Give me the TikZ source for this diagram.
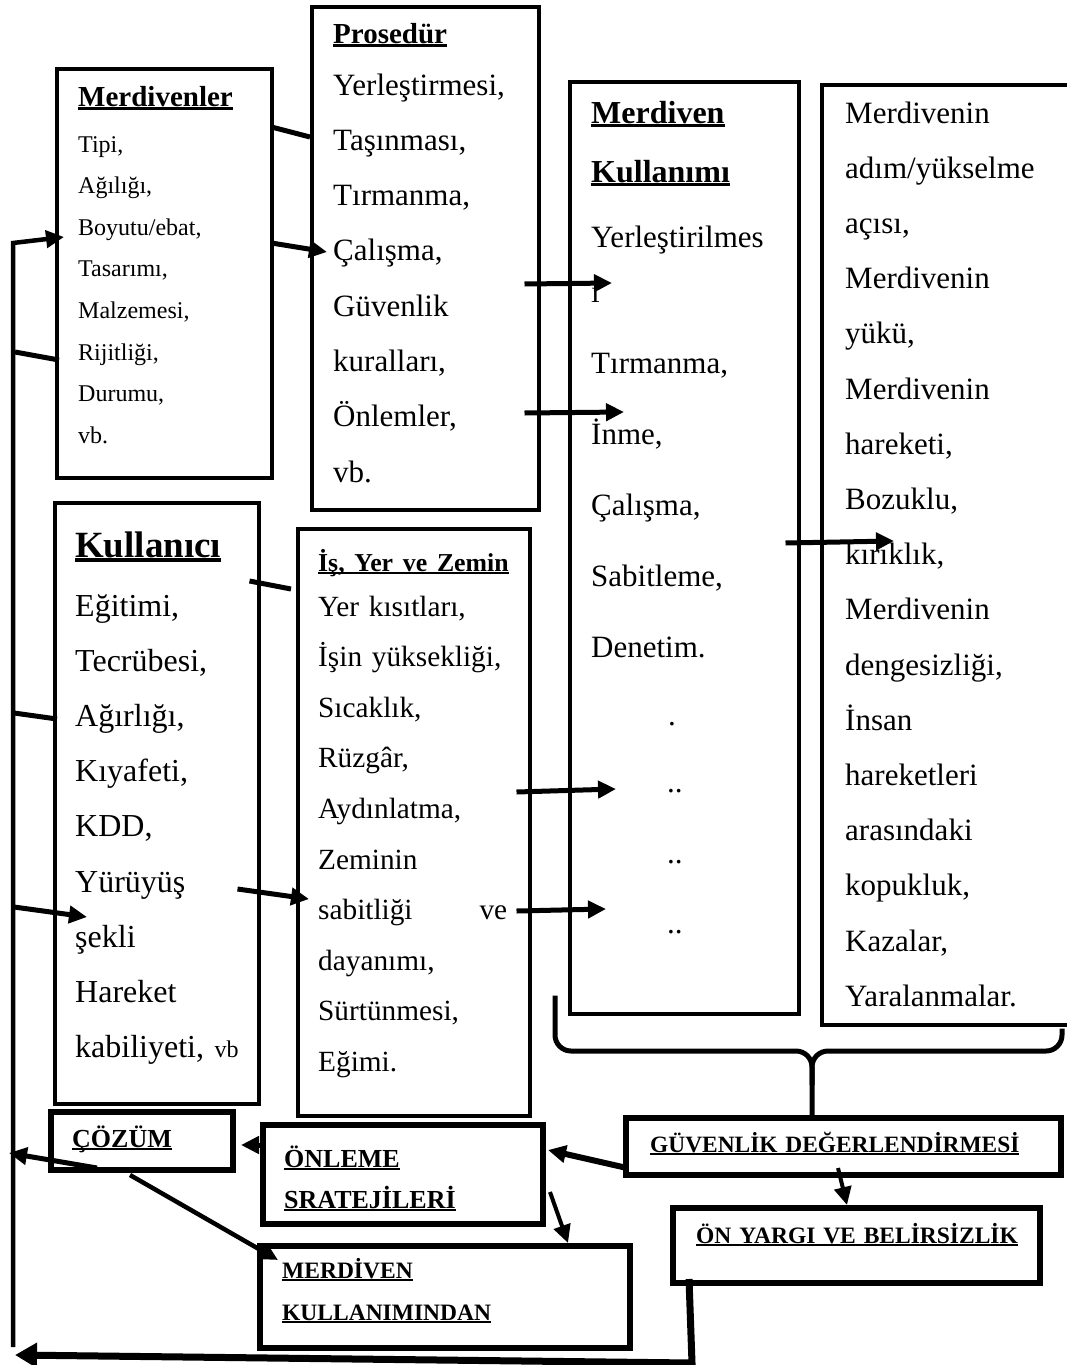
\documentclass[tikz,border=0pt]{standalone}
\usepackage{fontspec}
\setmainfont{Liberation Serif}
\usetikzlibrary{arrows.meta,calc}
\newcommand{\bul}[1]{\leavevmode\setbox0\hbox{\bfseries #1}\rlap{\rule[-0.13em]{\wd0}{0.09em}}\box0}
\newcommand{\fsz}[2]{\fontsize{#1}{#2}\selectfont}
\tikzstyle{frame} = [rectangle, draw, line width=3.5pt, anchor=north west, inner sep=0pt]
\tikzstyle{heavy} = [frame, line width=6pt]
\tikzstyle{words} = [anchor=base west, text width=300pt, align=left, inner sep=0pt]
\tikzstyle{line} = [draw, -{Triangle[length=18pt,width=17pt]}, line width=5pt]
\tikzstyle{link} = [draw, line width=5pt]
\begin{document}
\begin{tikzpicture}[x=1pt, y=-1pt]
			\useasboundingbox (0,0) rectangle (1067,1365);
			% Place nodes
			\node [frame, minimum width=215pt, minimum height=409pt] (ladders) at (55,67) {};
			\node [words, font=\fsz{24}{41.6}] (ladders-txt) at (78,106)
			{{\fsz{29}{41.6}\bul{Merdivenler}}\\[4.4pt] Tipi,\\ Ağılığı,\\ Boyutu/ebat,\\
				Tasarımı,\\ Malzemesi,\\ Rijitliği,\\ Durumu,\\ vb.};
			\node [frame, minimum width=227pt, minimum height=503pt] (proc) at (310,5) {};
			\node [words, font=\fsz{31}{55.3}] (proc-txt) at (333,43)
			{{\fsz{29}{55.3}\bul{Prosedür}}\\[-3.3pt] Yerleştirmesi,\\ Taşınması,\\ Tırmanma,\\
				Çalışma,\\ Güvenlik\\ kuralları,\\ Önlemler,\\ vb.};
			\node [frame, minimum width=229pt, minimum height=932pt] (usage) at (568,80) {};
			\node [words, font=\fsz{31}{55}] (usage-txt) at (591,123)
			{{\fsz{32}{55}\bul{Merdiven}}\\[4pt] {\fsz{32}{55}\bul{Kullanımı}}\\[10pt]
				Yerleştirilmes\\ i\\[16pt] Tırmanma,\\[16pt] İnme,\\[16pt] Çalışma,\\[16pt]
				Sabitleme,\\[16pt] Denetim.\\[13pt] \hspace*{77pt}.\\[12pt] \hspace*{76pt}..\\[16pt]
				\hspace*{76pt}..\\[15pt] \hspace*{76pt}..};
			\node [frame, minimum width=255pt, minimum height=940pt] (risks) at (820,83) {};
			\node [words, font=\fsz{31}{55.2}] (risks-txt) at (845,123)
			{Merdivenin\\ adım/yükselme\\ açısı,\\ Merdivenin\\ yükü,\\ Merdivenin\\ hareketi,\\
				Bozuklu,\\ kırıklık,\\ Merdivenin\\ dengesizliği,\\ İnsan\\ hareketleri\\
				arasındaki\\ kopukluk,\\ Kazalar,\\ Yaralanmalar.};
			\node [frame, minimum width=204pt, minimum height=601pt] (user) at (53,501) {};
			\node [words, font=\fsz{32}{55.2}] (user-txt) at (75,557)
			{{\fsz{37}{55.2}\bul{Kullanıcı}}\\[3.8pt] Eğitimi,\\ Tecrübesi,\\ Ağırlığı,\\
				Kıyafeti,\\ KDD,\\ Yürüyüş\\ şekli\\ Hareket\\ kabiliyeti, {\fsz{24}{55.2}vb}};
			\node [frame, minimum width=232pt, minimum height=587pt] (site) at (296,527) {};
			\node [words, font=\fsz{29.3}{50.6}] (site-txt) at (318,571)
			{{\fsz{25.8}{50.6}\bul{İş, Yer ve Zemin}}\\[-5.6pt] Yer kısıtları,\\
				İşin yüksekliği,\\ Sıcaklık,\\ Rüzgâr,\\ Aydınlatma,\\ Zeminin\\
				\makebox[189pt][l]{sabitliği\hfill ve}\\ dayanımı,\\ Sürtünmesi,\\ Eğimi.};
			% lower row
			\node [heavy, minimum width=182pt, minimum height=58pt] (cozum) at (48,1109) {};
			\node [words, font=\fsz{26}{41}] (cozum-txt) at (72,1147) {\bul{ÇÖZÜM}};
			\node [heavy, minimum width=280pt, minimum height=99pt] (onleme) at (260,1122) {};
			\node [words, font=\fsz{26}{41}] (onleme-txt) at (284,1167)
			{\bul{ÖNLEME}\\ \bul{SRATEJİLERİ}};
			\node [heavy, minimum width=435pt, minimum height=57pt] (guven) at (623,1115) {};
			\node [words, font=\fsz{23.4}{40}] (guven-txt) at (650,1152)
			{\bul{GÜVENLİK DEĞERLENDİRMESİ}};
			\node [heavy, minimum width=367pt, minimum height=75pt] (onyargi) at (670,1205) {};
			\node [words, font=\fsz{23.5}{42}] (onyargi-txt) at (696,1243)
			{\bul{ÖN YARGI VE BELİRSİZLİK}};
			\node [heavy, minimum width=370pt, minimum height=102pt] (kulla) at (257,1243) {};
			\node [words, font=\fsz{23.5}{42}] (kulla-txt) at (282,1278)
			{\bul{MERDİVEN}\\ \bul{KULLANIMINDAN}};
			\coordinate (spinetop) at (13,243);
			\coordinate (spinebottom) at (13,1347);
			\coordinate (bracetip) at ($(guven.north west)+(189,0)$);
			% connectors
			\path [line, line width=4.5pt] (spinebottom) -- (spinetop) -- ($(ladders.north west)+(9,170)$);
			\path [link] ($(spinetop)+(2,109)$) -- ($(ladders.north west)+(4,293)$);
			\path [link] ($(spinetop)+(1,470)$) -- ($(user.north west)+(4,218)$);
			\path [line] ($(spinetop)+(1,664)$) -- ($(user.north west)+(34,416)$);
			\path [link] ($(ladders.north east)+(-2,60)$) -- ($(proc.north west)+(0,132)$);
			\path [line] ($(ladders.north east)+(-2,176)$) -- ($(proc.north west)+(17,247)$);
			\path [line] ($(proc.north east)+(-16,279)$) -- ($(usage.north west)+(44,203)$);
			\path [line] ($(proc.north east)+(-16,408)$) -- ($(usage.north west)+(56,332)$);
			\path [line] ($(usage.north east)+(-15,463)$) -- ($(risks.north west)+(74,458)$);
			\path [link] ($(user.north east)+(-11,80)$) -- ($(site.north west)+(-5,62)$);
			\path [line] ($(user.north east)+(-23,388)$) -- ($(site.north west)+(13,372)$);
			\path [line] ($(site.north east)+(-15,265)$) -- ($(usage.north west)+(48,709)$);
			\path [line] ($(site.north east)+(-15,384)$) -- ($(usage.north west)+(38,829)$);
			% brace
			\path [draw, line width=5pt, rounded corners=16pt] ($(usage.south west)+(-13,-20)$)
			|- ($(bracetip)+(0,-64)$) -- (bracetip);
			\path [draw, line width=5pt, rounded corners=16pt] ($(risks.south west)+(242,2)$)
			|- ($(bracetip)+(0,-64)$) -- ($(bracetip)+(0,-30)$);
			\path [line, line width=6pt] ($(guven.south west)+(4,-10)$) -- ($(onleme.north east)+(2,28)$);
			\path [line, line width=4pt] ($(guven.south west)+(215,-10)$) -- ($(onyargi.north west)+(177,0)$);
			\path [line] ($(onleme.north west)+(5,23)$) -- ($(cozum.north east)+(5,36)$);
			\path [line] ($(cozum.south west)+(49,-5)$) -- ($(spinetop)+(-4,910)$);
			\path [line, line width=4.5pt] ($(cozum.south west)+(82,2)$) -- ($(kulla.north west)+(21,17)$);
			\path [line, line width=4pt] ($(onleme.north east)+(4,70)$) -- ($(kulla.north west)+(311,0)$);
			\path [line, line width=7pt, -{Triangle[length=22pt,width=24pt]}] ($(onyargi.south west)+(19,-7)$)
			-- ++(3,84) -- ($(spinebottom)+(2,8)$);
		\end{tikzpicture}
\end{document}
